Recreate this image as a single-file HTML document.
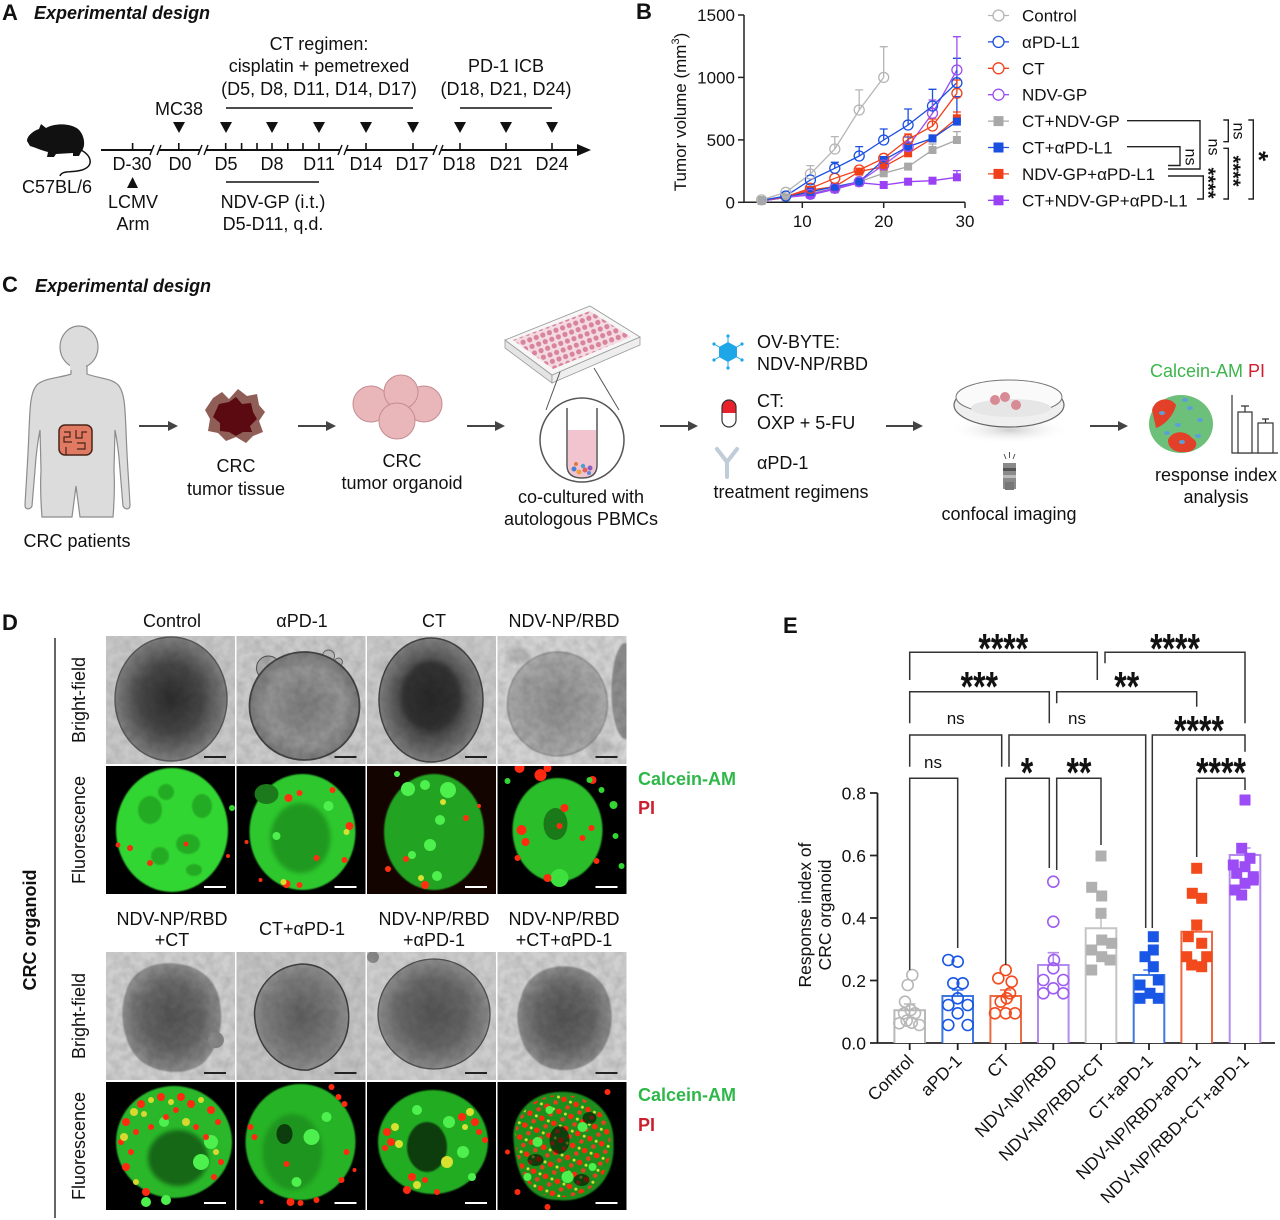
<!DOCTYPE html>
<html><head><meta charset="utf-8">
<style>
html,body{margin:0;padding:0;background:#fff;}
svg{display:block;font-family:"Liberation Sans",Arial,sans-serif;}
</style></head>
<body>
<svg width="1280" height="1220" viewBox="0 0 1280 1220" xmlns="http://www.w3.org/2000/svg">
<defs>
  <radialGradient id="bfA" cx="50%" cy="50%" r="50%">
    <stop offset="0" stop-color="#2c2c2c"/><stop offset="0.55" stop-color="#474747"/><stop offset="1" stop-color="#808080"/>
  </radialGradient>
  <radialGradient id="bfB" cx="50%" cy="50%" r="50%">
    <stop offset="0" stop-color="#7c7c7c"/><stop offset="0.7" stop-color="#959595"/><stop offset="1" stop-color="#7a7a7a"/>
  </radialGradient>
  <radialGradient id="bfC" cx="50%" cy="50%" r="50%">
    <stop offset="0" stop-color="#8c8c8c"/><stop offset="1" stop-color="#aaaaaa"/>
  </radialGradient>
  <radialGradient id="bfD" cx="50%" cy="50%" r="50%">
    <stop offset="0" stop-color="#545454"/><stop offset="0.6" stop-color="#666"/><stop offset="1" stop-color="#8c8c8c"/>
  </radialGradient>
  <radialGradient id="bfE" cx="50%" cy="50%" r="50%">
    <stop offset="0" stop-color="#5e5e5e"/><stop offset="0.7" stop-color="#7a7a7a"/><stop offset="1" stop-color="#8e8e8e"/>
  </radialGradient>
  <radialGradient id="shadow" cx="50%" cy="50%" r="50%">
    <stop offset="0" stop-color="#cfcfcf"/><stop offset="1" stop-color="#ffffff" stop-opacity="0"/>
  </radialGradient>
  <filter id="bl1"><feGaussianBlur stdDeviation="0.8"/></filter>
  <filter id="bl2"><feGaussianBlur stdDeviation="2"/></filter>
  <filter id="noise" x="0" y="0" width="100%" height="100%">
    <feTurbulence type="fractalNoise" baseFrequency="0.12" numOctaves="2" seed="3"/>
    <feColorMatrix type="matrix" values="0 0 0 0 0  0 0 0 0 0  0 0 0 0 0  0 0 0 -1.4 1.0"/>
  </filter>
  <pattern id="rd" width="13" height="13" patternUnits="userSpaceOnUse" patternTransform="rotate(23)">
    <circle cx="3" cy="3" r="2.8" fill="#ff2a0c"/>
    <circle cx="9.5" cy="9" r="2.3" fill="#e8401e"/>
    <circle cx="10" cy="3" r="1.5" fill="#d8e030"/>
  </pattern>
  <pattern id="wells" width="7" height="7" patternUnits="userSpaceOnUse" patternTransform="rotate(-20)">
    <rect width="7" height="7" fill="#f4dbe3"/>
    <circle cx="3.5" cy="3.5" r="2.6" fill="#d8849a"/>
  </pattern>
</defs>

<!-- ================= PANEL A ================= -->
<g font-size="18" fill="#111">
  <text x="2" y="20" font-weight="bold" font-size="22">A</text>
  <text x="34" y="19" font-weight="bold" font-style="italic">Experimental design</text>
  <g text-anchor="middle">
    <text x="319" y="50">CT regimen:</text>
    <text x="319" y="72">cisplatin + pemetrexed</text>
    <text x="319" y="95">(D5, D8, D11, D14, D17)</text>
    <text x="506" y="72">PD-1 ICB</text>
    <text x="506" y="95">(D18, D21, D24)</text>
    <text x="179" y="115">MC38</text>
    <text x="132" y="170">D-30</text>
    <text x="180" y="170">D0</text>
    <text x="226" y="170">D5</text>
    <text x="272" y="170">D8</text>
    <text x="319" y="170">D11</text>
    <text x="366" y="170">D14</text>
    <text x="412" y="170">D17</text>
    <text x="459" y="170">D18</text>
    <text x="506" y="170">D21</text>
    <text x="552" y="170">D24</text>
    <text x="57" y="193">C57BL/6</text>
    <text x="133" y="208">LCMV</text>
    <text x="133" y="230">Arm</text>
    <text x="273" y="208">NDV-GP (i.t.)</text>
    <text x="273" y="230">D5-D11, q.d.</text>
  </g>
</g>
<!-- mouse -->
<path d="M27,141 C27,136 33,131 39,129 L41,124 L46,128 C55,123 70,123 78,129 C85,135 86,147 81,152 L79,156 L73,156 L73,153 L56,154 L54,157 L47,157 L48,152 C40,150 34,147 30,146 Z" fill="#111"/>
<path d="M81,150 C92,156 94,166 82,170 C72,173 62,170 60,176" fill="none" stroke="#111" stroke-width="1.5"/>
<!-- timeline -->
<g stroke="#111" stroke-width="2" fill="none">
  <line x1="101" y1="150" x2="580" y2="150"/>
  <line x1="226" y1="108" x2="413" y2="108" stroke-width="1.6"/>
  <line x1="460" y1="108" x2="552" y2="108" stroke-width="1.6"/>
  <line x1="226" y1="182" x2="319" y2="182" stroke-width="1.6"/>
  <g stroke-width="1.6">
    <line x1="132.6" y1="143" x2="132.6" y2="150"/>
    <line x1="178.8" y1="143" x2="178.8" y2="150"/>
    <line x1="225.7" y1="143" x2="225.7" y2="150"/>
    <line x1="241.6" y1="143" x2="241.6" y2="150"/>
    <line x1="257" y1="143" x2="257" y2="150"/>
    <line x1="272" y1="143" x2="272" y2="150"/>
    <line x1="287.8" y1="143" x2="287.8" y2="150"/>
    <line x1="303" y1="143" x2="303" y2="150"/>
    <line x1="319" y1="143" x2="319" y2="150"/>
    <line x1="366" y1="143" x2="366" y2="150"/>
    <line x1="413" y1="143" x2="413" y2="150"/>
    <line x1="460" y1="143" x2="460" y2="150"/>
    <line x1="506" y1="143" x2="506" y2="150"/>
    <line x1="552" y1="143" x2="552" y2="150"/>
  </g>
</g>
<g fill="#fff">
  <rect x="152" y="146" width="7" height="8"/>
  <rect x="200" y="146" width="6" height="8"/>
  <rect x="340" y="146" width="6" height="8"/>
  <rect x="435" y="146" width="6" height="8"/>
</g>
<g stroke="#111" stroke-width="1.4">
  <line x1="150" y1="155" x2="154" y2="145"/><line x1="157" y1="155" x2="161" y2="145"/>
  <line x1="198" y1="155" x2="202" y2="145"/><line x1="204" y1="155" x2="208" y2="145"/>
  <line x1="338" y1="155" x2="342" y2="145"/><line x1="344" y1="155" x2="348" y2="145"/>
  <line x1="433" y1="155" x2="437" y2="145"/><line x1="439" y1="155" x2="443" y2="145"/>
</g>
<polygon points="577,144 591,150 577,156" fill="#111"/>
<g fill="#111">
  <polygon points="173,122 185,122 179,133"/>
  <polygon points="220,122 232,122 226,133"/>
  <polygon points="266,122 278,122 272,133"/>
  <polygon points="313,122 325,122 319,133"/>
  <polygon points="360,122 372,122 366,133"/>
  <polygon points="407,122 419,122 413,133"/>
  <polygon points="454,122 466,122 460,133"/>
  <polygon points="500,122 512,122 506,133"/>
  <polygon points="546,122 558,122 552,133"/>
  <polygon points="127,188 138,188 132.6,177"/>
</g>

<!-- ================= PANEL B ================= -->
<text x="636" y="19" font-weight="bold" font-size="22" fill="#111">B</text>
<g stroke="#222" stroke-width="1.5" fill="none">
  <line x1="744" y1="15" x2="744" y2="202.3"/>
  <line x1="744" y1="202.3" x2="965" y2="202.3"/>
  <line x1="738" y1="15" x2="744" y2="15"/>
  <line x1="738" y1="77.4" x2="744" y2="77.4"/>
  <line x1="738" y1="139.9" x2="744" y2="139.9"/>
  <line x1="738" y1="202.3" x2="744" y2="202.3"/>
  <line x1="802.3" y1="202.3" x2="802.3" y2="208"/>
  <line x1="883.7" y1="202.3" x2="883.7" y2="208"/>
  <line x1="965" y1="202.3" x2="965" y2="208"/>
</g>
<g font-size="17" fill="#111">
  <g text-anchor="end">
    <text x="735" y="21">1500</text>
    <text x="735" y="83.4">1000</text>
    <text x="735" y="146">500</text>
    <text x="735" y="208.3">0</text>
  </g>
  <g text-anchor="middle">
    <text x="802.3" y="227">10</text>
    <text x="883.7" y="227">20</text>
    <text x="965" y="227">30</text>
  </g>
  <text transform="translate(686,112) rotate(-90)" text-anchor="middle">Tumor volume (mm<tspan font-size="11" dy="-7">3</tspan><tspan dy="7">)</tspan></text>
</g>
<!-- series lines -->
<g fill="none" stroke-width="1.3">
  <polyline stroke="#b5b5b5" points="761.6,199.9 785.8,192.3 810.4,174 834.8,149 859.2,110 883.7,77.4"/>
  <polyline stroke="#a8a8a8" points="761.6,200 785.8,197.3 810.4,193.3 834.8,188.3 859.2,181.7 883.7,173.3 908.1,166.6 932.5,150 956.9,140"/>
  <polyline stroke="#9a40f5" points="761.6,201 785.8,197.3 810.4,195 834.8,189.3 859.2,182.7 883.7,185 908.1,181.7 932.5,180.7 956.9,177.3"/>
  <polyline stroke="#f0401a" points="761.6,201 785.8,197.3 810.4,190 834.8,186.7 859.2,171.6 883.7,166.6 908.1,153.3 932.5,138.4 956.9,118.3"/>
  <polyline stroke="#1a4fe0" points="761.6,201 785.8,197.3 810.4,191.7 834.8,186.7 859.2,181.7 883.7,160 908.1,146.6 932.5,138.4 956.9,121.6"/>
  <polyline stroke="#9b4ff0" points="761.6,201 785.8,197.3 810.4,194.3 834.8,188.3 859.2,181.7 883.7,165 908.1,146.6 932.5,113.3 956.9,70"/>
  <polyline stroke="#f0401a" points="761.6,200.4 785.8,196.7 810.4,188.3 834.8,178.3 859.2,170 883.7,158.3 908.1,139.4 932.5,126 956.9,93.3"/>
  <polyline stroke="#1a4fe0" points="761.6,200.4 785.8,196 810.4,180 834.8,168.3 859.2,156 883.7,140 908.1,125 932.5,106 956.9,82.7"/>
</g>
<!-- error bars -->
<g fill="none" stroke-width="1.3">
  <path stroke="#b5b5b5" d="M810.4,174V165.6M806.4,165.6H814.4M834.8,149V136.6M830.8,136.6H838.8M859.2,110V89.9M855.2,89.9H863.2M883.7,77.4V46.7M879.7,46.7H887.7"/>
  <path stroke="#1a4fe0" d="M834.8,168.3V162.3M830.8,162.3H838.8M859.2,156V146.6M855.2,146.6H863.2M883.7,140V129M879.7,129H887.7M908.1,125V109M904.1,109H912.1M932.5,106V89.3M928.5,89.3H936.5M956.9,82.7V58.3M952.9,58.3H960.9M956.9,121.6V96.7M952.9,96.7H960.9M908.1,146.6V137M904.1,137H912.1"/>
  <path stroke="#f0401a" d="M908.1,139.4V134M904.1,134H912.1M932.5,126V119M928.5,119H936.5M956.9,93.3V80M952.9,80H960.9M956.9,118.3V112M952.9,112H960.9"/>
  <path stroke="#9b4ff0" d="M932.5,113.3V100M928.5,100H936.5M956.9,70V36.7M952.9,36.7H960.9M956.9,177.3V170.6M952.9,170.6H960.9"/>
  <path stroke="#a8a8a8" d="M956.9,140V131.6M952.9,131.6H960.9M932.5,150V144M928.5,144H936.5"/>
</g>
<!-- markers -->
<g>
  <g fill="#a8a8a8">
    <rect x="757.6" y="196" width="8" height="8"/><rect x="781.8" y="193.3" width="8" height="8"/><rect x="806.4" y="189.3" width="8" height="8"/><rect x="830.8" y="184.3" width="8" height="8"/><rect x="855.2" y="177.7" width="8" height="8"/><rect x="879.7" y="169.3" width="8" height="8"/><rect x="904.1" y="162.6" width="8" height="8"/><rect x="928.5" y="146" width="8" height="8"/><rect x="952.9" y="136" width="8" height="8"/>
  </g>
  <g fill="#9a40f5">
    <rect x="806.4" y="191" width="8" height="8"/><rect x="830.8" y="185.3" width="8" height="8"/><rect x="855.2" y="178.7" width="8" height="8"/><rect x="879.7" y="181" width="8" height="8"/><rect x="904.1" y="177.7" width="8" height="8"/><rect x="928.5" y="176.7" width="8" height="8"/><rect x="952.9" y="173.3" width="8" height="8"/>
  </g>
  <g fill="#f0401a">
    <rect x="806.4" y="186" width="8" height="8"/><rect x="830.8" y="182.7" width="8" height="8"/><rect x="855.2" y="167.6" width="8" height="8"/><rect x="879.7" y="162.6" width="8" height="8"/><rect x="904.1" y="149.3" width="8" height="8"/><rect x="928.5" y="134.4" width="8" height="8"/><rect x="952.9" y="114.3" width="8" height="8"/>
  </g>
  <g fill="#1a4fe0">
    <rect x="806.4" y="187.7" width="8" height="8"/><rect x="830.8" y="182.7" width="8" height="8"/><rect x="855.2" y="177.7" width="8" height="8"/><rect x="879.7" y="156" width="8" height="8"/><rect x="904.1" y="142.6" width="8" height="8"/><rect x="928.5" y="134.4" width="8" height="8"/><rect x="952.9" y="117.6" width="8" height="8"/>
  </g>
  <g fill="none" stroke-width="1.3">
    <g stroke="#9b4ff0"><circle cx="810.4" cy="194.3" r="5"/><circle cx="834.8" cy="188.3" r="5"/><circle cx="859.2" cy="181.7" r="5"/><circle cx="883.7" cy="165" r="5"/><circle cx="908.1" cy="146.6" r="5"/><circle cx="932.5" cy="113.3" r="5"/><circle cx="956.9" cy="70" r="5"/></g>
    <g stroke="#f0401a"><circle cx="810.4" cy="188.3" r="5"/><circle cx="834.8" cy="178.3" r="5"/><circle cx="859.2" cy="170" r="5"/><circle cx="883.7" cy="158.3" r="5"/><circle cx="908.1" cy="139.4" r="5"/><circle cx="932.5" cy="126" r="5"/><circle cx="956.9" cy="93.3" r="5"/></g>
    <g stroke="#1a4fe0"><circle cx="785.8" cy="196" r="5"/><circle cx="810.4" cy="180" r="5"/><circle cx="834.8" cy="168.3" r="5"/><circle cx="859.2" cy="156" r="5"/><circle cx="883.7" cy="140" r="5"/><circle cx="908.1" cy="125" r="5"/><circle cx="932.5" cy="106" r="5"/><circle cx="956.9" cy="82.7" r="5"/></g>
    <g stroke="#b5b5b5"><circle cx="761.6" cy="199.9" r="5"/><circle cx="785.8" cy="192.3" r="5"/><circle cx="810.4" cy="174" r="5"/><circle cx="834.8" cy="149" r="5"/><circle cx="859.2" cy="110" r="5"/><circle cx="883.7" cy="77.4" r="5"/></g>
  </g>
  <rect x="757.6" y="197" width="8" height="8" fill="#a8a8a8"/>
</g>
<!-- legend -->
<g stroke-width="1.3">
  <line x1="988" y1="15.5" x2="1009" y2="15.5" stroke="#b5b5b5"/><circle cx="998.5" cy="15.5" r="5.5" fill="#fff" stroke="#b5b5b5"/>
  <line x1="988" y1="41.9" x2="1009" y2="41.9" stroke="#1a4fe0"/><circle cx="998.5" cy="41.9" r="5.5" fill="#fff" stroke="#1a4fe0"/>
  <line x1="988" y1="68.3" x2="1009" y2="68.3" stroke="#f0401a"/><circle cx="998.5" cy="68.3" r="5.5" fill="#fff" stroke="#f0401a"/>
  <line x1="988" y1="94.7" x2="1009" y2="94.7" stroke="#9b4ff0"/><circle cx="998.5" cy="94.7" r="5.5" fill="#fff" stroke="#9b4ff0"/>
  <line x1="988" y1="121.1" x2="1009" y2="121.1" stroke="#a8a8a8"/><rect x="993.5" y="116.1" width="10" height="10" fill="#a8a8a8"/>
  <line x1="988" y1="147.5" x2="1009" y2="147.5" stroke="#1a4fe0"/><rect x="993.5" y="142.5" width="10" height="10" fill="#1a4fe0"/>
  <line x1="988" y1="173.9" x2="1009" y2="173.9" stroke="#f0401a"/><rect x="993.5" y="168.9" width="10" height="10" fill="#f0401a"/>
  <line x1="988" y1="200.3" x2="1009" y2="200.3" stroke="#9a40f5"/><rect x="993.5" y="195.3" width="10" height="10" fill="#9a40f5"/>
</g>
<g font-size="17" fill="#111">
  <text x="1022" y="21.5">Control</text>
  <text x="1022" y="47.9">αPD-L1</text>
  <text x="1022" y="74.3">CT</text>
  <text x="1022" y="100.7">NDV-GP</text>
  <text x="1022" y="127.1">CT+NDV-GP</text>
  <text x="1022" y="153.5">CT+αPD-L1</text>
  <text x="1022" y="179.9">NDV-GP+αPD-L1</text>
  <text x="1022" y="206.3">CT+NDV-GP+αPD-L1</text>
</g>
<g fill="none" stroke="#222" stroke-width="1.4">
  <path d="M1127,120.7H1200V169H1168"/>
  <path d="M1127,146.7H1180V165.5H1168"/>
  <path d="M1168,176H1203.3V199H1197"/>
  <path d="M1223.3,120H1228.3V141.7H1223.3"/>
  <path d="M1223.3,148.3H1228.3V199H1223.3"/>
  <path d="M1248.3,120H1253.3V199H1248.3"/>
</g>
<g fill="#111">
  <text transform="translate(1190,157) rotate(90)" text-anchor="middle" y="4.5" font-size="16">ns</text>
  <text transform="translate(1213,147) rotate(90)" text-anchor="middle" y="4.5" font-size="16">ns</text>
  <text transform="translate(1238,131) rotate(90)" text-anchor="middle" y="4.5" font-size="16">ns</text>
  <text transform="translate(1213,183) rotate(90)" text-anchor="middle" y="11.6" font-size="20" font-weight="bold">****</text>
  <text transform="translate(1238,171) rotate(90)" text-anchor="middle" y="11.6" font-size="20" font-weight="bold">****</text>
  <text transform="translate(1265,156) rotate(90)" text-anchor="middle" y="15" font-size="26" font-weight="bold">*</text>
</g>

<!-- ================= PANEL C ================= -->
<g font-size="18" fill="#111">
  <text x="2" y="292" font-weight="bold" font-size="22">C</text>
  <text x="35" y="292" font-weight="bold" font-style="italic">Experimental design</text>
  <g text-anchor="middle">
    <text x="77" y="547">CRC patients</text>
    <text x="236" y="472">CRC</text>
    <text x="236" y="495">tumor tissue</text>
    <text x="402" y="467">CRC</text>
    <text x="402" y="489">tumor organoid</text>
    <text x="581" y="503">co-cultured with</text>
    <text x="581" y="525">autologous PBMCs</text>
    <text x="791" y="498">treatment regimens</text>
    <text x="1009" y="520">confocal imaging</text>
    <text x="1216" y="481">response index</text>
    <text x="1216" y="503">analysis</text>
  </g>
  <text x="757" y="348">OV-BYTE:</text>
  <text x="757" y="370">NDV-NP/RBD</text>
  <text x="757" y="407">CT:</text>
  <text x="757" y="429">OXP + 5-FU</text>
  <text x="757" y="469">αPD-1</text>
  <text x="1150" y="377" fill="#3cb54a">Calcein-AM <tspan fill="#d0202e">PI</tspan></text>
</g>
<!-- human -->
<ellipse cx="79" cy="347" rx="19" ry="21" fill="#dcdcdc" stroke="#8c8c8c" stroke-width="1.2"/>
<path d="M71,366 L71,374 C60,378 42,378 36,386 C30,394 30,410 29,430 C28,460 26,485 25,505 C25,510 30,510 32,506 L35,470 C36,455 38,440 40,430 L41,470 C40,490 41,505 42,517 L72,517 L76,486 L80,517 L113,517 C114,505 115,490 114,470 L115,430 C117,440 119,455 120,470 L123,506 C125,510 130,510 130,505 C129,485 127,460 126,430 C125,410 125,394 119,386 C113,378 96,378 87,374 L87,366 Z" fill="#dcdcdc" stroke="#8c8c8c" stroke-width="1.2"/>
<rect x="70" y="362" width="16" height="8" fill="#dcdcdc"/>
<rect x="59" y="425" width="33" height="30" rx="6" fill="#e07a62" stroke="#4a2418" stroke-width="1.5"/>
<path d="M64,432 h6 v5 h-6 v5 h8 M76,430 v8 h6 v-6 h5 M77,443 h8 v6 h-8 M66,447 v8" fill="none" stroke="#4a2418" stroke-width="1.2"/>
<!-- arrows -->
<g stroke="#444" stroke-width="2" fill="#444">
  <line x1="139" y1="426" x2="170" y2="426"/><polygon points="168,421 178,426 168,431" stroke="none"/>
  <line x1="298" y1="426" x2="328" y2="426"/><polygon points="326,421 336,426 326,431" stroke="none"/>
  <line x1="467" y1="426" x2="497" y2="426"/><polygon points="495,421 505,426 495,431" stroke="none"/>
  <line x1="660" y1="426" x2="690" y2="426"/><polygon points="688,421 698,426 688,431" stroke="none"/>
  <line x1="886" y1="426" x2="915" y2="426"/><polygon points="913,421 923,426 913,431" stroke="none"/>
  <line x1="1090" y1="426" x2="1120" y2="426"/><polygon points="1118,421 1128,426 1118,431" stroke="none"/>
</g>
<!-- tumor tissue -->
<path d="M213,398 L222,392 L229,399 L238,389 L247,396 L257,394 L259,405 L265,412 L259,421 L263,432 L253,436 L246,443 L236,437 L226,441 L218,433 L208,431 L210,419 L205,410 Z" fill="#8f5f57"/>
<path d="M219,404 L229,402 L236,397 L242,404 L251,403 L253,412 L257,419 L250,426 L252,432 L243,432 L236,436 L229,432 L220,431 L220,423 L213,417 Z" fill="#5a0a10"/>
<!-- organoid -->
<g fill="#e9b7b9" stroke="#c48c90" stroke-width="1">
  <circle cx="371" cy="404" r="18"/>
  <circle cx="424" cy="404" r="18"/>
  <circle cx="401" cy="392" r="17"/>
  <circle cx="397" cy="421" r="18"/>
</g>
<!-- well plate -->
<polygon points="505,340 552,375 552,383 505,348" fill="#e4e4e4" stroke="#999" stroke-width="0.8"/>
<polygon points="552,375 640,337 640,345 552,383" fill="#eeeeee" stroke="#999" stroke-width="0.8"/>
<polygon points="505,340 590,306 640,337 552,375" fill="#f6f6f6" stroke="#999" stroke-width="0.8"/>
<polygon points="513,340 590,311 631,337 553,369" fill="url(#wells)"/>
<g stroke="#555" stroke-width="1">
  <line x1="560" y1="372" x2="546" y2="410"/>
  <line x1="594" y1="368" x2="619" y2="410"/>
</g>
<circle cx="582" cy="440" r="42" fill="#fff" stroke="#555" stroke-width="1.5"/>
<path d="M568,430 L568,465 Q568,477 582,477 Q596,477 596,465 L596,430 Z" fill="#f2c4d0"/>
<path d="M567,408 L567,465 Q567,478 582,478 Q597,478 597,465 L597,408" fill="none" stroke="#555" stroke-width="1.5"/>
<g>
  <circle cx="574" cy="469" r="2.5" fill="#4a7fd0"/><circle cx="579" cy="472" r="2.5" fill="#f0a040"/><circle cx="585" cy="470" r="2.5" fill="#e06060"/><circle cx="590" cy="468" r="2.5" fill="#8a5fc0"/><circle cx="583" cy="466" r="2.2" fill="#4a9fd0"/><circle cx="576" cy="464" r="2" fill="#e07840"/><circle cx="589" cy="473" r="2" fill="#5a8ad8"/>
</g>
<!-- hexagon -->
<g stroke="#1ea7e8" stroke-width="1">
  <line x1="728" y1="352" x2="728" y2="336"/><line x1="728" y1="352" x2="728" y2="368"/>
  <line x1="728" y1="352" x2="714" y2="344"/><line x1="728" y1="352" x2="742" y2="344"/>
  <line x1="728" y1="352" x2="714" y2="360"/><line x1="728" y1="352" x2="742" y2="360"/>
</g>
<g fill="#1ea7e8">
  <circle cx="728" cy="336" r="1.6"/><circle cx="728" cy="368" r="1.6"/><circle cx="714" cy="344" r="1.6"/><circle cx="742" cy="344" r="1.6"/><circle cx="714" cy="360" r="1.6"/><circle cx="742" cy="360" r="1.6"/>
</g>
<polygon points="728,342 737,347 737,357 728,362 719,357 719,347" fill="#1ea7e8"/>
<!-- capsule -->
<path d="M722,413 L722,407 A7,7 0 0 1 736,407 L736,413 Z" fill="#e8212a"/>
<path d="M722,413 L722,420 A7,7 0 0 0 736,420 L736,413 Z" fill="#fff"/>
<rect x="722" y="400" width="14" height="27" rx="7" fill="none" stroke="#333" stroke-width="1.2"/>
<!-- antibody -->
<g stroke="#c0ccd8" stroke-width="4" fill="none" stroke-linecap="round">
  <path d="M717,449 L727,462 L737,449"/><path d="M727,462 L727,477"/>
</g>
<!-- petri dish -->
<ellipse cx="1010" cy="430" rx="62" ry="14" fill="url(#shadow)"/>
<ellipse cx="1009" cy="405" rx="55" ry="22" fill="#efefef" stroke="#666" stroke-width="1.2"/>
<ellipse cx="1009" cy="397" rx="53" ry="17" fill="#fafafa" stroke="#777" stroke-width="1"/>
<ellipse cx="1011" cy="408" rx="40" ry="9" fill="#e6e6e6"/>
<circle cx="995" cy="400" r="5" fill="#d88a95"/><circle cx="1005" cy="397" r="5" fill="#d88a95"/><circle cx="1016" cy="405" r="5" fill="#d88a95"/>
<!-- objective -->
<rect x="1003" y="463" width="13" height="26" fill="#8a8a8a"/>
<rect x="1003" y="468" width="13" height="3" fill="#555"/><rect x="1003" y="475" width="13" height="3" fill="#bbb"/><rect x="1005" y="482" width="9" height="8" fill="#777"/>
<g stroke="#555" stroke-width="1"><line x1="1004" y1="454" x2="1006" y2="459"/><line x1="1009.5" y1="452" x2="1009.5" y2="458"/><line x1="1015" y1="454" x2="1013" y2="459"/></g>
<!-- final cluster -->
<ellipse cx="1181" cy="424" rx="32" ry="29" fill="#6cc07a"/>
<path d="M1152,410 C1155,398 1170,396 1176,405 C1174,415 1165,425 1156,428 Z" fill="#e3402a"/>
<path d="M1168,440 C1172,430 1186,430 1192,438 C1200,442 1196,452 1186,452 C1176,453 1168,449 1168,440 Z" fill="#e3402a"/>
<g fill="#5aa0d8">
  <ellipse cx="1162" cy="413" rx="3" ry="2"/><ellipse cx="1190" cy="408" rx="3" ry="2"/><ellipse cx="1200" cy="420" rx="3" ry="2"/><ellipse cx="1178" cy="425" rx="3" ry="2"/><ellipse cx="1182" cy="442" rx="3" ry="2"/><ellipse cx="1167" cy="433" rx="3" ry="2"/><ellipse cx="1198" cy="436" rx="3" ry="2"/><ellipse cx="1185" cy="400" rx="3" ry="2"/>
</g>
<g stroke="#333" stroke-width="1.2" fill="none">
  <path d="M1232,395V453H1278"/>
  <rect x="1238" y="412" width="14" height="41" fill="#fff"/>
  <rect x="1258" y="423" width="15" height="30" fill="#fff"/>
  <path d="M1245,412V406M1241,406H1249M1265.5,423V419M1262,419H1269"/>
</g>

<!-- ================= PANEL D ================= -->
<g font-size="18" fill="#111">
  <text x="2" y="630" font-weight="bold" font-size="22">D</text>
  <g text-anchor="middle">
    <text x="172" y="627">Control</text>
    <text x="302" y="627">αPD-1</text>
    <text x="434" y="627">CT</text>
    <text x="564" y="627">NDV-NP/RBD</text>
    <text x="172" y="925">NDV-NP/RBD</text>
    <text x="172" y="946">+CT</text>
    <text x="302" y="935">CT+αPD-1</text>
    <text x="434" y="925">NDV-NP/RBD</text>
    <text x="434" y="946">+αPD-1</text>
    <text x="564" y="925">NDV-NP/RBD</text>
    <text x="564" y="946">+CT+αPD-1</text>
    <text transform="translate(85,700) rotate(-90)">Bright-field</text>
    <text transform="translate(85,830) rotate(-90)">Fluorescence</text>
    <text transform="translate(85,1016) rotate(-90)">Bright-field</text>
    <text transform="translate(85,1146) rotate(-90)">Fluorescence</text>
    <text transform="translate(36,930) rotate(-90)" font-weight="bold">CRC organoid</text>
  </g>
  <g font-weight="bold">
    <text x="638" y="785" fill="#2fb84a">Calcein-AM</text>
    <text x="638" y="814" fill="#cc1f2e">PI</text>
    <text x="638" y="1101" fill="#2fb84a">Calcein-AM</text>
    <text x="638" y="1131" fill="#cc1f2e">PI</text>
  </g>
</g>
<line x1="55" y1="638" x2="55" y2="1218" stroke="#333" stroke-width="1.5"/>

<!-- row 1 bright-field -->
<svg x="106" y="636" width="129" height="128">
  <rect width="129" height="128" fill="#c8c8c8"/>
  <ellipse cx="65" cy="63" rx="56" ry="62" fill="url(#bfA)" stroke="#5a5a5a" stroke-width="1.5"/>
  <ellipse cx="65" cy="63" rx="50" ry="56" fill="none" stroke="#777" stroke-width="1" opacity="0.6"/>
  <rect width="129" height="128" filter="url(#noise)" opacity="0.12"/>
  <line x1="98" y1="121" x2="120" y2="121" stroke="#222" stroke-width="2"/>
</svg>
<svg x="236.5" y="636" width="129" height="128">
  <rect width="129" height="128" fill="#cbcbcb"/>
  <circle cx="32" cy="32" r="12" fill="#aaa" stroke="#555" stroke-width="1"/>
  <circle cx="92" cy="20" r="6" fill="#bbb" stroke="#666"/><circle cx="102" cy="26" r="4" fill="#bbb" stroke="#666"/>
  <ellipse cx="68" cy="70" rx="55" ry="54" fill="url(#bfB)" stroke="#444" stroke-width="1.8"/>
  <rect width="129" height="128" filter="url(#noise)" opacity="0.15"/>
  <line x1="98" y1="121" x2="120" y2="121" stroke="#222" stroke-width="2"/>
</svg>
<svg x="367" y="636" width="129" height="128">
  <rect width="129" height="128" fill="#c9c9c9"/>
  <ellipse cx="20" cy="30" rx="8" ry="5" fill="#b5b5b5" filter="url(#bl2)"/>
  <ellipse cx="64" cy="64" rx="52" ry="62" fill="url(#bfA)" stroke="#444" stroke-width="1.5"/>
  <ellipse cx="64" cy="60" rx="30" ry="35" fill="#262626" opacity="0.6" filter="url(#bl2)"/>
  <rect width="129" height="128" filter="url(#noise)" opacity="0.12"/>
  <line x1="98" y1="121" x2="120" y2="121" stroke="#222" stroke-width="2"/>
</svg>
<svg x="497.5" y="636" width="129" height="128">
  <rect width="129" height="128" fill="#d3d3d3"/>
  <ellipse cx="20" cy="20" rx="12" ry="8" fill="#b8b8b8" filter="url(#bl2)"/>
  <ellipse cx="100" cy="110" rx="14" ry="8" fill="#bbb" filter="url(#bl2)"/>
  <ellipse cx="128" cy="55" rx="14" ry="48" fill="#8e8e8e" filter="url(#bl1)"/>
  <ellipse cx="60" cy="68" rx="50" ry="52" fill="url(#bfC)" stroke="#777" stroke-width="1" filter="url(#bl1)"/>
  <rect width="129" height="128" filter="url(#noise)" opacity="0.15"/>
  <line x1="98" y1="121" x2="120" y2="121" stroke="#222" stroke-width="2"/>
</svg>

<!-- row 1 fluorescence -->
<svg x="106" y="766" width="129" height="128">
  <rect width="129" height="128" fill="#000"/>
  <ellipse cx="66" cy="64" rx="56" ry="62" fill="#33d633" filter="url(#bl1)"/>
  <g fill="#22a422" opacity="0.85" filter="url(#bl1)">
    <ellipse cx="44" cy="44" rx="12" ry="14"/><ellipse cx="60" cy="26" rx="8" ry="8"/><ellipse cx="82" cy="78" rx="12" ry="10"/><ellipse cx="54" cy="90" rx="9" ry="9"/><ellipse cx="96" cy="40" rx="10" ry="12"/><ellipse cx="88" cy="104" rx="8" ry="6"/>
  </g>
  <g fill="#f03010"><circle cx="24" cy="82" r="3"/><circle cx="44" cy="97" r="3"/><circle cx="80" cy="78" r="2.5"/><circle cx="12" cy="79" r="2.5"/><circle cx="122" cy="90" r="2"/></g>
  <circle cx="126" cy="42" r="3" fill="#33d633"/>
  <line x1="98" y1="121" x2="120" y2="121" stroke="#fff" stroke-width="2"/>
</svg>
<svg x="236.5" y="766" width="129" height="128">
  <rect width="129" height="128" fill="#000"/>
  <ellipse cx="66" cy="66" rx="53" ry="58" fill="#2ec82e" filter="url(#bl1)"/>
  <ellipse cx="64" cy="72" rx="30" ry="35" fill="#1e8e1e" opacity="0.8" filter="url(#bl2)"/>
  <ellipse cx="30" cy="28" rx="12" ry="10" fill="#1c7a1c"/>
  <g fill="#ff3010"><circle cx="52" cy="32" r="4"/><circle cx="63" cy="27" r="3"/><circle cx="96" cy="24" r="3"/><circle cx="113" cy="60" r="4"/><circle cx="108" cy="94" r="3"/><circle cx="80" cy="92" r="3"/><circle cx="50" cy="118" r="4"/><circle cx="63" cy="119" r="3"/><circle cx="10" cy="76" r="2"/><circle cx="24" cy="114" r="2"/></g>
  <circle cx="47" cy="116" r="3" fill="#d8e030"/><circle cx="110" cy="66" r="3" fill="#d8e030"/>
  <circle cx="92" cy="40" r="5" fill="#4ef04e"/><circle cx="40" cy="70" r="4" fill="#4ef04e"/>
  <line x1="98" y1="121" x2="120" y2="121" stroke="#fff" stroke-width="2"/>
</svg>
<svg x="367" y="766" width="129" height="128">
  <rect width="129" height="128" fill="#140400"/>
  <ellipse cx="67" cy="66" rx="50" ry="58" fill="#24a424" filter="url(#bl1)"/>
  <g fill="#4ef04e"><circle cx="41" cy="23" r="7"/><circle cx="58" cy="19" r="5"/><circle cx="81" cy="24" r="8"/><circle cx="73" cy="54" r="5"/><circle cx="63" cy="79" r="6"/><circle cx="45" cy="89" r="4"/><circle cx="70" cy="110" r="5"/><circle cx="30" cy="8" r="3"/></g>
  <g fill="#ff3010"><circle cx="39" cy="93" r="3"/><circle cx="99" cy="52" r="3"/><circle cx="21" cy="103" r="3"/><circle cx="58" cy="119" r="4"/><circle cx="112" cy="40" r="2"/></g>
  <circle cx="54" cy="112" r="3" fill="#d8e030"/><circle cx="76" cy="36" r="3" fill="#d8e030"/>
  <line x1="98" y1="121" x2="120" y2="121" stroke="#fff" stroke-width="2"/>
</svg>
<svg x="497.5" y="766" width="129" height="128">
  <rect width="129" height="128" fill="#000"/>
  <ellipse cx="60" cy="64" rx="45" ry="52" fill="#2cbe2c" filter="url(#bl1)"/>
  <ellipse cx="58" cy="58" rx="12" ry="16" fill="#1a7a1a"/>
  <circle cx="62" cy="112" r="9" fill="#3ee03e"/>
  <g fill="#ff2a10"><circle cx="22" cy="2" r="5"/><circle cx="43" cy="9" r="6"/><circle cx="50" cy="2" r="4"/><circle cx="95" cy="14" r="4"/><circle cx="24" cy="64" r="5"/><circle cx="28" cy="76" r="4"/><circle cx="67" cy="42" r="4"/><circle cx="85" cy="72" r="3"/><circle cx="50" cy="112" r="4"/><circle cx="99" cy="95" r="3"/><circle cx="20" cy="92" r="3"/><circle cx="94" cy="62" r="3"/><circle cx="62" cy="60" r="3"/></g>
  <g fill="#33d633"><circle cx="116" cy="39" r="4"/><circle cx="92" cy="14" r="3"/><circle cx="104" cy="24" r="3"/><circle cx="10" cy="15" r="3"/><circle cx="118" cy="70" r="3"/><circle cx="124" cy="100" r="3"/></g>
  <line x1="98" y1="121" x2="120" y2="121" stroke="#fff" stroke-width="2"/>
</svg>

<!-- row 2 bright-field -->
<svg x="106" y="952" width="129" height="128">
  <rect width="129" height="128" fill="#cfcfcf"/>
  <path d="M20,40 C25,18 50,8 72,12 C95,14 112,30 114,52 C118,72 112,98 96,112 C80,124 50,122 34,108 C18,94 12,62 20,40 Z" fill="url(#bfD)" filter="url(#bl1)"/>
  <circle cx="110" cy="88" r="8" fill="#8a8a8a"/>
  <rect width="129" height="128" filter="url(#noise)" opacity="0.15"/>
  <line x1="98" y1="121" x2="120" y2="121" stroke="#222" stroke-width="2"/>
</svg>
<svg x="236.5" y="952" width="129" height="128">
  <rect width="129" height="128" fill="#c4c4c4"/>
  <path d="M18,60 C20,32 40,14 65,12 C92,12 110,34 112,60 C114,88 100,110 72,118 C44,120 18,96 18,60 Z" fill="url(#bfE)" stroke="#3e3e3e" stroke-width="1.5"/>
  <rect width="129" height="128" filter="url(#noise)" opacity="0.12"/>
  <line x1="98" y1="121" x2="120" y2="121" stroke="#222" stroke-width="2"/>
</svg>
<svg x="367" y="952" width="129" height="128">
  <rect width="129" height="128" fill="#cdcdcd"/>
  <circle cx="6" cy="5" r="6" fill="#888"/>
  <ellipse cx="67" cy="62" rx="56" ry="55" fill="url(#bfD)" stroke="#505050" stroke-width="1.3"/>
  <rect width="129" height="128" filter="url(#noise)" opacity="0.12"/>
  <line x1="98" y1="121" x2="120" y2="121" stroke="#222" stroke-width="2"/>
</svg>
<svg x="497.5" y="952" width="129" height="128">
  <rect width="129" height="128" fill="#d0d0d0"/>
  <path d="M24,44 C30,20 56,10 80,16 C104,22 116,44 114,70 C112,96 96,116 70,118 C44,120 26,102 22,80 C18,66 20,54 24,44 Z" fill="url(#bfD)" filter="url(#bl1)"/>
  <rect width="129" height="128" filter="url(#noise)" opacity="0.15"/>
  <line x1="98" y1="121" x2="120" y2="121" stroke="#222" stroke-width="2"/>
</svg>

<!-- row 2 fluorescence -->
<svg x="106" y="1082" width="129" height="128">
  <rect width="129" height="128" fill="#000"/>
  <ellipse cx="68" cy="60" rx="58" ry="56" fill="#2ab82a" filter="url(#bl1)"/>
  <ellipse cx="72" cy="76" rx="30" ry="28" fill="#176817" filter="url(#bl2)"/>
  <g fill="#4ef04e"><circle cx="95" cy="80" r="8"/><circle cx="105" cy="60" r="7"/><circle cx="40" cy="120" r="5"/><circle cx="60" cy="118" r="5"/><circle cx="58" cy="40" r="5"/></g>
  <g fill="#ff2a10"><circle cx="20" cy="40" r="4"/><circle cx="35" cy="22" r="4"/><circle cx="55" cy="15" r="4"/><circle cx="75" cy="15" r="4"/><circle cx="85" cy="22" r="4"/><circle cx="105" cy="28" r="4"/><circle cx="112" cy="40" r="3"/><circle cx="25" cy="70" r="3"/><circle cx="20" cy="85" r="4"/><circle cx="40" cy="110" r="4"/><circle cx="100" cy="55" r="3"/><circle cx="108" cy="95" r="3"/><circle cx="60" cy="35" r="3"/><circle cx="45" cy="45" r="3"/><circle cx="90" cy="45" r="3"/><circle cx="30" cy="50" r="3"/><circle cx="70" cy="28" r="3"/><circle cx="15" cy="60" r="3"/><circle cx="115" cy="80" r="3"/></g>
  <g fill="#d8d830"><circle cx="28" cy="30" r="4"/><circle cx="45" cy="18" r="3"/><circle cx="65" cy="20" r="3"/><circle cx="95" cy="18" r="3"/><circle cx="18" cy="55" r="4"/><circle cx="30" cy="100" r="3"/><circle cx="110" cy="70" r="3"/><circle cx="80" cy="40" r="4"/><circle cx="38" cy="32" r="3"/></g>
  <line x1="98" y1="121" x2="120" y2="121" stroke="#fff" stroke-width="2"/>
</svg>
<svg x="236.5" y="1082" width="129" height="128">
  <rect width="129" height="128" fill="#000"/>
  <ellipse cx="64" cy="60" rx="55" ry="58" fill="#28b428" filter="url(#bl1)"/>
  <ellipse cx="56" cy="70" rx="30" ry="38" fill="#1c881c" opacity="0.7" filter="url(#bl2)"/>
  <ellipse cx="48" cy="52" rx="8" ry="10" fill="#0d3d0d"/>
  <g fill="#4ef04e"><circle cx="75" cy="55" r="8"/><circle cx="60" cy="100" r="5"/><circle cx="90" cy="35" r="5"/></g>
  <g fill="#ff2a10"><circle cx="14" cy="45" r="3"/><circle cx="18" cy="55" r="3"/><circle cx="102" cy="15" r="3"/><circle cx="108" cy="22" r="3"/><circle cx="110" cy="70" r="3"/><circle cx="105" cy="98" r="3"/><circle cx="54" cy="120" r="4"/><circle cx="64" cy="121" r="3"/><circle cx="80" cy="118" r="3"/><circle cx="50" cy="82" r="3"/><circle cx="95" cy="5" r="3"/><circle cx="25" cy="120" r="2"/><circle cx="118" cy="88" r="2"/></g>
  <line x1="98" y1="121" x2="120" y2="121" stroke="#fff" stroke-width="2"/>
</svg>
<svg x="367" y="1082" width="129" height="128">
  <rect width="129" height="128" fill="#000"/>
  <ellipse cx="66" cy="60" rx="55" ry="52" fill="#24ac24" filter="url(#bl1)"/>
  <ellipse cx="60" cy="65" rx="20" ry="25" fill="#0d3d0d" filter="url(#bl1)"/>
  <g fill="#4ef04e"><circle cx="96" cy="70" r="6"/><circle cx="82" cy="40" r="6"/><circle cx="105" cy="95" r="4"/><circle cx="50" cy="28" r="5"/></g>
  <g fill="#ff2a10"><circle cx="20" cy="50" r="4"/><circle cx="24" cy="60" r="4"/><circle cx="18" cy="66" r="3"/><circle cx="95" cy="35" r="4"/><circle cx="108" cy="40" r="4"/><circle cx="112" cy="50" r="3"/><circle cx="45" cy="95" r="4"/><circle cx="40" cy="108" r="4"/><circle cx="58" cy="98" r="3"/><circle cx="70" cy="110" r="3"/><circle cx="118" cy="58" r="3"/></g>
  <g fill="#d8e030"><circle cx="28" cy="45" r="4"/><circle cx="32" cy="62" r="4"/><circle cx="103" cy="30" r="4"/><circle cx="98" cy="45" r="3"/><circle cx="50" cy="103" r="4"/><circle cx="80" cy="80" r="6"/></g>
  <line x1="98" y1="121" x2="120" y2="121" stroke="#fff" stroke-width="2"/>
</svg>
<svg x="497.5" y="1082" width="129" height="128">
  <rect width="129" height="128" fill="#000"/>
  <path d="M16,58 C14,30 36,10 62,10 C92,8 118,30 116,62 C118,96 94,122 60,118 C30,118 18,92 16,58 Z" fill="#1d8e1d" filter="url(#bl1)"/>
  <path d="M18,58 C16,32 37,13 62,13 C90,11 114,32 113,62 C114,94 92,117 60,115 C32,115 20,90 18,58 Z" fill="url(#rd)"/>
  <g fill="#000" opacity="0.55">
    <ellipse cx="62" cy="58" rx="10" ry="14"/><ellipse cx="38" cy="78" rx="8" ry="6"/><ellipse cx="92" cy="36" rx="7" ry="6"/><ellipse cx="84" cy="98" rx="8" ry="6"/>
  </g>
  <g fill="#4ef04e"><circle cx="40" cy="60" r="5"/><circle cx="85" cy="45" r="5"/><circle cx="70" cy="95" r="6"/><circle cx="30" cy="95" r="4"/><circle cx="95" cy="85" r="4"/><circle cx="52" cy="28" r="4"/></g>
  <g fill="#ff2a10"><circle cx="20" cy="110" r="3"/><circle cx="50" cy="125" r="3"/><circle cx="110" cy="10" r="3"/><circle cx="10" cy="70" r="2.5"/></g>
  <line x1="98" y1="121" x2="120" y2="121" stroke="#fff" stroke-width="2"/>
</svg>

<!-- ================= PANEL E ================= -->
<text x="783" y="633" font-weight="bold" font-size="22" fill="#111">E</text>
<g stroke="#222" stroke-width="1.8" fill="none">
  <line x1="877.5" y1="793" x2="877.5" y2="1043"/>
  <line x1="877.5" y1="1043" x2="1275" y2="1043"/>
  <path d="M870,1043H877.5M870,980.5H877.5M870,918H877.5M870,855.5H877.5M870,793H877.5"/>
  <path d="M909.7,1043V1050M957.7,1043V1050M1005.7,1043V1050M1053.3,1043V1050M1101,1043V1050M1149,1043V1050M1196.7,1043V1050M1245,1043V1050"/>
</g>
<g font-size="17.5" fill="#111" text-anchor="end">
  <text x="866" y="1049.5">0.0</text>
  <text x="866" y="987">0.2</text>
  <text x="866" y="924.5">0.4</text>
  <text x="866" y="862">0.6</text>
  <text x="866" y="799.5">0.8</text>
</g>
<g font-size="17.5" fill="#111" text-anchor="middle">
  <text transform="translate(811,915) rotate(-90)">Response index of</text>
  <text transform="translate(831,915) rotate(-90)">CRC organoid</text>
</g>
<g font-size="17.5" fill="#111" text-anchor="end">
  <text transform="translate(914.7,1062) rotate(-45)">Control</text>
  <text transform="translate(962.7,1062) rotate(-45)">aPD-1</text>
  <text transform="translate(1010.7,1062) rotate(-45)">CT</text>
  <text transform="translate(1058.3,1062) rotate(-45)">NDV-NP/RBD</text>
  <text transform="translate(1106,1062) rotate(-45)">NDV-NP/RBD+CT</text>
  <text transform="translate(1154,1062) rotate(-45)">CT+aPD-1</text>
  <text transform="translate(1201.7,1062) rotate(-45)">NDV-NP/RBD+aPD-1</text>
  <text transform="translate(1250,1062) rotate(-45)">NDV-NP/RBD+CT+aPD-1</text>
</g>
<!-- bars -->
<g fill="#fff" stroke-width="2">
  <path d="M894.4,1043V1010.2H925V1043" stroke="#b8b8b8"/>
  <path d="M942.4,1043V996H973V1043" stroke="#3e78e0"/>
  <path d="M990.4,1043V996H1021V1043" stroke="#ec6a45"/>
  <path d="M1038,1043V965H1068.6V1043" stroke="#b48af0"/>
  <path d="M1085.7,1043V928.3H1116.3V1043" stroke="#c4c4c4"/>
  <path d="M1133.7,1043V975H1164.3V1043" stroke="#3e78e0"/>
  <path d="M1181.4,1043V931.7H1212V1043" stroke="#ec6a45"/>
  <path d="M1229.7,1043V855H1260.3V1043" stroke="#b48af0"/>
</g>
<g fill="none" stroke-width="1.6">
  <path stroke="#b8b8b8" d="M909.7,1010.2V1004M904,1004H915.4"/>
  <path stroke="#3e78e0" d="M957.7,996V990M952,990H963.4M1149,975V970M1143.3,970H1154.7"/>
  <path stroke="#ec6a45" d="M1005.7,996V990M1000,990H1011.4M1196.7,931.7V920.7M1191,920.7H1202.4"/>
  <path stroke="#b48af0" d="M1053.3,965V952.7M1047.6,952.7H1059M1245,855V848M1239.3,848H1250.7"/>
  <path stroke="#c4c4c4" d="M1101,928.3V915M1095.3,915H1106.7"/>
</g>
<!-- points -->
<g fill="none" stroke-width="1.6">
  <g stroke="#b8b8b8"><circle cx="912.3" cy="975" r="5.5"/><circle cx="907.7" cy="985" r="5.5"/><circle cx="905" cy="1001.7" r="5.5"/><circle cx="910.7" cy="1010" r="5.5"/><circle cx="904" cy="1013.3" r="5.5"/><circle cx="915" cy="1013.3" r="5.5"/><circle cx="899.3" cy="1023.3" r="5.5"/><circle cx="911.7" cy="1022.7" r="5.5"/><circle cx="919.3" cy="1025" r="5.5"/><circle cx="906.7" cy="1020.7" r="5.5"/></g>
  <g stroke="#1a56e6"><circle cx="948.3" cy="960" r="5.5"/><circle cx="957.7" cy="961.7" r="5.5"/><circle cx="953.3" cy="983.3" r="5.5"/><circle cx="962.7" cy="983.3" r="5.5"/><circle cx="957.7" cy="998.3" r="5.5"/><circle cx="948.3" cy="1005" r="5.5"/><circle cx="967.7" cy="1005" r="5.5"/><circle cx="957.7" cy="1013.3" r="5.5"/><circle cx="948.3" cy="1025" r="5.5"/><circle cx="967.7" cy="1025" r="5.5"/></g>
  <g stroke="#f24a1c"><circle cx="1005.7" cy="970" r="5.5"/><circle cx="998.3" cy="978.3" r="5.5"/><circle cx="1011.7" cy="981.7" r="5.5"/><circle cx="1010" cy="993.3" r="5.5"/><circle cx="1000.7" cy="1001.7" r="5.5"/><circle cx="995" cy="1013.3" r="5.5"/><circle cx="1005.7" cy="1013.3" r="5.5"/><circle cx="1015" cy="1013.3" r="5.5"/><circle cx="1006.7" cy="998.3" r="5.5"/></g>
  <g stroke="#9d5cf2"><circle cx="1053.3" cy="881.7" r="5.5"/><circle cx="1053.3" cy="921.7" r="5.5"/><circle cx="1054" cy="960" r="5.5"/><circle cx="1053.3" cy="968.3" r="5.5"/><circle cx="1043.3" cy="980" r="5.5"/><circle cx="1063.3" cy="980" r="5.5"/><circle cx="1053.3" cy="988.3" r="5.5"/><circle cx="1043.3" cy="993.3" r="5.5"/><circle cx="1063.3" cy="993.3" r="5.5"/></g>
</g>
<g fill="#b0b0b0">
  <rect x="1095.5" y="850.5" width="11" height="11"/><rect x="1086.2" y="881.8" width="11" height="11"/><rect x="1096.2" y="890.5" width="11" height="11"/><rect x="1095.5" y="907.8" width="11" height="11"/><rect x="1096.2" y="934.5" width="11" height="11"/><rect x="1086.2" y="944.5" width="11" height="11"/><rect x="1106.2" y="937.8" width="11" height="11"/><rect x="1104.5" y="954.5" width="11" height="11"/><rect x="1086.2" y="964.5" width="11" height="11"/><rect x="1096.2" y="951.2" width="11" height="11"/>
</g>
<g fill="#1a56e6">
  <rect x="1147.8" y="931.2" width="11" height="11"/><rect x="1147.8" y="944.5" width="11" height="11"/><rect x="1139.5" y="951.2" width="11" height="11"/><rect x="1147.8" y="961.2" width="11" height="11"/><rect x="1134.5" y="979.5" width="11" height="11"/><rect x="1152.8" y="974.5" width="11" height="11"/><rect x="1134.5" y="992.8" width="11" height="11"/><rect x="1152.8" y="992.8" width="11" height="11"/><rect x="1144.5" y="987.8" width="11" height="11"/>
</g>
<g fill="#f24a1c">
  <rect x="1191.2" y="862.8" width="11" height="11"/><rect x="1186.8" y="887.8" width="11" height="11"/><rect x="1196.2" y="892.8" width="11" height="11"/><rect x="1191.2" y="919.5" width="11" height="11"/><rect x="1182.8" y="931.2" width="11" height="11"/><rect x="1196.2" y="937.8" width="11" height="11"/><rect x="1181.2" y="951.2" width="11" height="11"/><rect x="1201.2" y="951.2" width="11" height="11"/><rect x="1186.2" y="959.5" width="11" height="11"/><rect x="1196.2" y="961.2" width="11" height="11"/>
</g>
<g fill="#9b4cf5">
  <rect x="1239.5" y="794.5" width="11" height="11"/><rect x="1236.2" y="842.8" width="11" height="11"/><rect x="1244.5" y="852.8" width="11" height="11"/><rect x="1227.8" y="859.5" width="11" height="11"/><rect x="1239.5" y="861.2" width="11" height="11"/><rect x="1247.8" y="871.2" width="11" height="11"/><rect x="1231.2" y="867.8" width="11" height="11"/><rect x="1239.5" y="877.8" width="11" height="11"/><rect x="1229.5" y="884.5" width="11" height="11"/><rect x="1236.2" y="889.5" width="11" height="11"/><rect x="1247.8" y="874.5" width="11" height="11"/>
</g>
<!-- brackets -->
<g fill="none" stroke="#333" stroke-width="1.5">
  <path d="M909.7,970V778.3H957.7V948"/>
  <path d="M1005.7,965V778.3H1049.3V868"/>
  <path d="M1056.7,870V778.3H1101V845"/>
  <path d="M1196.7,857V778.3H1245V790"/>
  <path d="M909.7,766.7V735H1001.7V766.7"/>
  <path d="M1009,766.7V735H1145.7V928"/>
  <path d="M1152.3,928V735H1245V751.7"/>
  <path d="M909.7,723.3V691.7H1049.3V723.3"/>
  <path d="M1056.7,703.3V691.7H1196.7V706.7"/>
  <path d="M909.7,680V652.3H1097.3V680"/>
  <path d="M1105,663.3V652.3H1245V723.3"/>
</g>
<g fill="#111" text-anchor="middle">
  <text x="933" y="768" font-size="17">ns</text>
  <text x="955.7" y="724" font-size="17">ns</text>
  <text x="1077" y="724" font-size="17">ns</text>
  <g font-size="32" font-weight="bold">
    <text transform="translate(1027,763) scale(1,1.3)" y="18.4">*</text>
    <text transform="translate(1079,763) scale(1,1.3)" y="18.4">**</text>
    <text transform="translate(1221,763) scale(1,1.3)" y="18.4">****</text>
    <text transform="translate(1199,721) scale(1,1.3)" y="18.4">****</text>
    <text transform="translate(979.3,677) scale(1,1.3)" y="18.4">***</text>
    <text transform="translate(1126.7,677) scale(1,1.3)" y="18.4">**</text>
    <text transform="translate(1003.3,639) scale(1,1.3)" y="18.4">****</text>
    <text transform="translate(1175,639) scale(1,1.3)" y="18.4">****</text>
  </g>
</g>
</svg>
</body>
</html>
